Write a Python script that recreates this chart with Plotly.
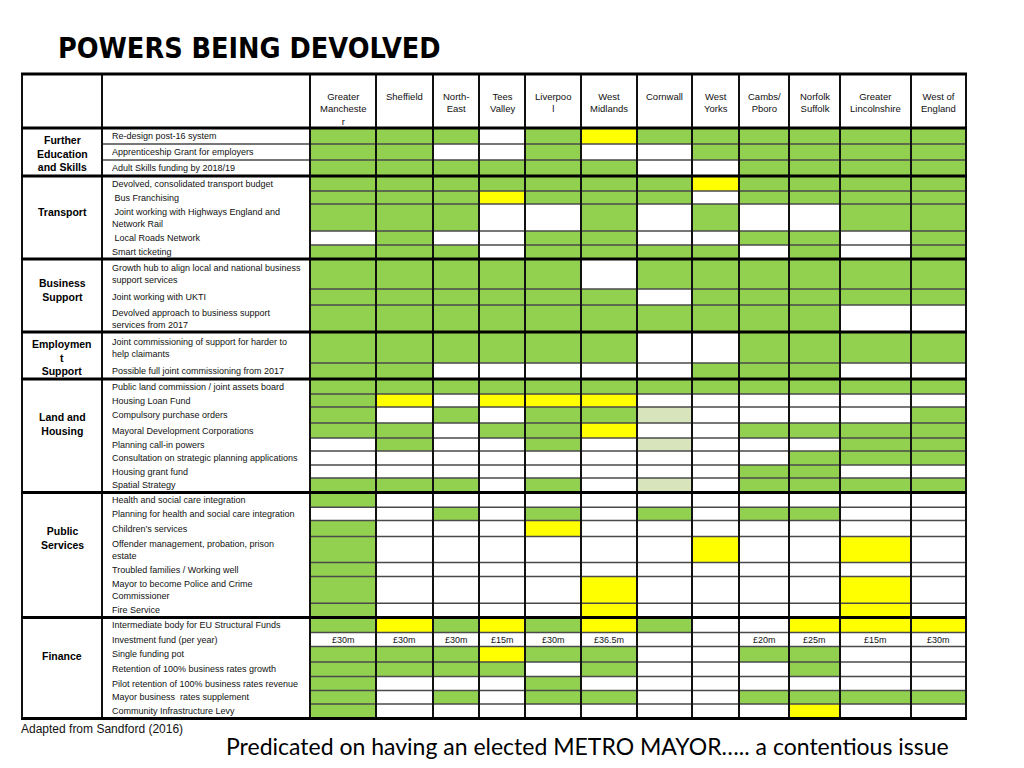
import plotly.graph_objects as go

# --- data -----------------------------------------------------------------
title = "POWERS BEING DEVOLVED"
source_note = "Adapted from Sandford (2016)"
footer = "Predicated on having an elected METRO MAYOR\u2026.. a contentious issue"

areas = ["Greater<br>Mancheste<br>r", "Sheffield", "North-<br>East", "Tees<br>Valley",
         "Liverpoo<br>l", "West<br>Midlands", "Cornwall", "West<br>Yorks",
         "Cambs/<br>Pboro", "Norfolk<br>Suffolk", "Greater<br>Lincolnshire", "West of<br>England"]

sections = ["Further<br>Education<br>and Skills", "Transport", "Business<br>Support",
            "Employmen<br>t<br>Support", "Land and<br>Housing", "Public<br>Services", "Finance"]
section_rows = [3, 5, 3, 2, 8, 7, 7]

powers = [
    "Re-design post-16 system",
    "Apprenticeship Grant for employers",
    "Adult Skills funding by 2018/19",
    "Devolved, consolidated transport budget",
    "\u00a0Bus Franchising",
    "\u00a0Joint working with Highways England and<br>Network Rail",
    "\u00a0Local Roads Network",
    "Smart ticketing",
    "Growth hub to align local and national business<br>support services",
    "Joint working with UKTI",
    "Devolved approach to business support<br>services from 2017",
    "Joint commissioning of support for harder to<br>help claimants",
    "Possible full joint commissioning from 2017",
    "Public land commission / joint assets board",
    "Housing Loan Fund",
    "Compulsory purchase orders",
    "Mayoral Development Corporations",
    "Planning call-in powers",
    "Consultation on strategic planning applications",
    "Housing grant fund",
    "Spatial Strategy",
    "Health and social care integration",
    "Planning for health and social care integration",
    "Children\u2019s services",
    "Offender management, probation, prison<br>estate",
    "Troubled families / Working well",
    "Mayor to become Police and Crime<br>Commissioner",
    "Fire Service",
    "Intermediate body for EU Structural Funds",
    "Investment fund (per year)",
    "Single funding pot",
    "Retention of 100% business rates growth",
    "Pilot retention of 100% business rates revenue",
    "Mayor business  rates supplement",
    "Community Infrastructure Levy",
]

# G = agreed (green), Y = partial (yellow), L = pale, W = none
status = [
    "GGGWGYGGGGGG",
    "GGWWGWWGGGGG",
    "GGGGGGWWGGGG",
    "GGGGGGGYGGGG",
    "GGGYGGGWGGGG",
    "GGGWWGWGWWGG",
    "WGWWGGWWGGWG",
    "GGGWGGGGWGWG",
    "GGGGGWGGGGGG",
    "GGGGGGWGGGGG",
    "GGGGGGGGGGWW",
    "GGGGGGWWGGGG",
    "GGWWWWWGGGWW",
    "GGGGGGGGGGGG",
    "GYWYYYWWWWWW",
    "GWGWGGLWWWWG",
    "GGWGGYWWGGGG",
    "WGWWGWLWWWGG",
    "WWWWWWWWWGGG",
    "WWWWWWWWGGWW",
    "GGGWGWLWGGGG",
    "GWWWWWWWWWWW",
    "WWGWGWGWGGWW",
    "GWWWYWWWWWWW",
    "GWWWWWWYWWYW",
    "GWWWWWWWWWWW",
    "GWWWWYWWWWYW",
    "GWWWWYWWWWYW",
    "GYGYGYGWWYYY",
    "WWWWWWWWWWWW",
    "GGGYGGWWGGWW",
    "GGGGWGWWWGWW",
    "GWWWGWWWWWWW",
    "GWGWGGWWGGGG",
    "GWWWWWWWWYWW",
]
investment_row = 29
investment = ["£30m", "£30m", "£30m", "£15m", "£30m", "£36.5m", "", "", "£20m", "£25m", "£15m", "£30m"]

# --- layout geometry (page pixel units) -----------------------------------
col_edges = [22, 102, 310, 376, 433, 479, 525, 581, 637, 692, 739, 789, 840, 911, 966]
header_top = 74
header_bottom = 128
row_h = [16, 16, 16,
         15, 13, 27, 14, 14,
         30, 16, 27,
         31, 16,
         15, 13, 16, 15, 13, 14, 13, 14.5,
         14.7, 13.3, 16, 26, 14, 26.7, 14.3,
         15, 14, 15.5, 14.5, 14, 13.5, 14.5]
section_label_y = [153, 212, 290, 357, 424, 538, 656]

row_edges = [header_bottom]
for h in row_h:
    row_edges.append(row_edges[-1] + h)
bottom = row_edges[-1]

code = {"W": 0, "G": 1, "Y": 2, "L": 3}
z = [[code[c] for c in s] for s in status]

FONT = "Liberation Sans, Arial, sans-serif"

fig = go.Figure()

fig.add_trace(go.Heatmap(
    x=col_edges[2:], y=row_edges, z=z, zmin=0, zmax=3,
    colorscale=[[0, "#FFFFFF"], [1 / 3, "#92D050"], [2 / 3, "#FFFF00"], [1, "#D8E4BC"]],
    showscale=False, hoverinfo="skip"))

# section boundaries
sec_edges = [header_bottom]
i = 0
for n in section_rows:
    i += n
    sec_edges.append(row_edges[i])

# thin row lines
tx, ty = [], []
for k in range(1, len(row_edges) - 1):
    yv = row_edges[k]
    if yv in sec_edges:
        continue
    x0 = col_edges[1] if k < section_rows[0] else col_edges[2]
    tx += [x0, col_edges[-1], None]
    ty += [yv, yv, None]
fig.add_trace(go.Scatter(x=tx, y=ty, mode="lines", line=dict(color="#4a4a4a", width=1.6),
                         hoverinfo="skip", showlegend=False))

# vertical lines
vx, vy = [], []
for xv in col_edges:
    vx += [xv, xv, None]
    vy += [header_top, bottom, None]
fig.add_trace(go.Scatter(x=vx, y=vy, mode="lines", line=dict(color="#111111", width=2),
                         hoverinfo="skip", showlegend=False))

# thick lines
kx, ky = [], []
for yv in [header_top] + sec_edges:
    kx += [col_edges[0] - 1, col_edges[-1] + 1, None]
    ky += [yv, yv, None]
fig.add_trace(go.Scatter(x=kx, y=ky, mode="lines", line=dict(color="#000000", width=3),
                         hoverinfo="skip", showlegend=False))

ann = []
# column headers
for j, a in enumerate(areas):
    ann.append(dict(x=(col_edges[j + 2] + col_edges[j + 3]) / 2, y=header_top + 15, text=a,
                    xanchor="center", yanchor="top", showarrow=False,
                    font=dict(size=9.5, family=FONT, color="#111")))
# power labels
for k, p in enumerate(powers):
    ann.append(dict(x=col_edges[1] + 8, y=(row_edges[k] + row_edges[k + 1]) / 2, text=p,
                    xanchor="left", yanchor="middle", align="left", showarrow=False,
                    font=dict(size=9, family=FONT, color="#111")))
# section labels
for s, yv in zip(sections, section_label_y):
    ann.append(dict(x=(col_edges[0] + col_edges[1]) / 2, y=yv, text="<b>" + s + "</b>",
                    xanchor="center", yanchor="middle", showarrow=False,
                    font=dict(size=10.5, family=FONT, color="#000")))
# investment values
for j, v in enumerate(investment):
    if v:
        ann.append(dict(x=(col_edges[j + 2] + col_edges[j + 3]) / 2,
                        y=(row_edges[investment_row] + row_edges[investment_row + 1]) / 2,
                        text=v, xanchor="center", yanchor="middle", showarrow=False,
                        font=dict(size=9, family=FONT, color="#111")))

ann.append(dict(x=56, y=48, text="<b>" + title + "</b>", xanchor="left", yanchor="middle",
                showarrow=False,
                font=dict(size=28.5, family="DejaVu Sans Condensed, DejaVu Sans, sans-serif", color="#000")))
ann.append(dict(x=19, y=729, text=source_note, xanchor="left", yanchor="middle",
                showarrow=False, font=dict(size=12, family=FONT, color="#111")))
ann.append(dict(x=224, y=746, text=footer, xanchor="left", yanchor="middle",
                showarrow=False, font=dict(size=23, family="Lato, Noto Sans, sans-serif", color="#000")))

# the page body adds an 8px margin, so the axes are set in page pixels
fig.update_layout(
    width=1008, height=752, autosize=False,
    margin=dict(l=0, r=0, t=0, b=0),
    paper_bgcolor="white", plot_bgcolor="white",
    xaxis=dict(range=[8, 1016], visible=False, fixedrange=True),
    yaxis=dict(range=[760, 8], visible=False, fixedrange=True),
    annotations=ann,
    showlegend=False,
)

fig.write_html("out.html")
